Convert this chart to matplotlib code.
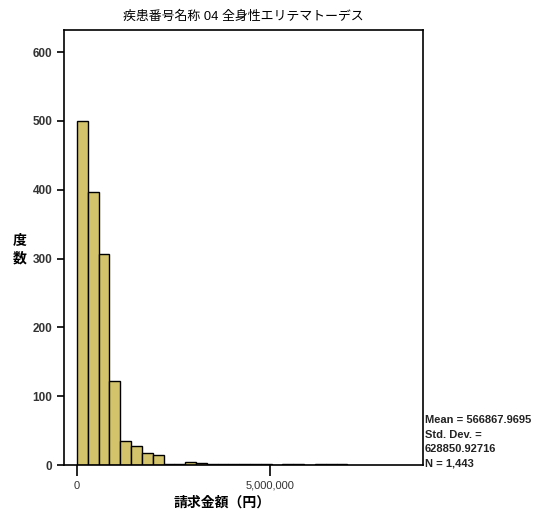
import matplotlib
matplotlib.use("Agg")
import matplotlib.pyplot as plt

plt.rcParams['font.family'] = ['Liberation Sans', 'Noto Sans CJK JP', 'DejaVu Sans']

# histogram of claim amounts (yen), bin width
bin_width = 280000
counts = [500, 397, 306, 122, 35, 28, 18, 14, 2, 2, 4, 3, 2, 1, 1, 1, 1, 1,
          0, 1, 1, 0, 1, 1, 1]
bin_lefts = [i * bin_width for i in range(len(counts))]

title = "疾患番号名称 04 全身性エリテマトーデス"
xlabel = "請求金額（円）"
ylabel = "度\n数"
stats = "Mean = 566867.9695\nStd. Dev. =\n628850.92716\nN = 1,443"
yticks = [0, 100, 200, 300, 400, 500, 600]
xticks = [0, 5000000]
xticklabels = ["0", "5,000,000"]

fig = plt.figure(figsize=(5.39, 5.14), dpi=100)
ax = fig.add_axes([64 / 539, 1 - 465 / 514, (423 - 64) / 539, (465 - 30) / 514])

ax.bar(bin_lefts, counts, width=bin_width, align='edge',
       color='#d3c46c', edgecolor='black', linewidth=1.0)

ax.set_xlim(-337000, 8960000)
ax.set_ylim(0, 632)
ax.set_yticks(yticks)
ax.set_yticklabels([str(v) for v in yticks], fontsize=8.5, fontweight='bold', color='#333333')
ax.set_xticks(xticks)
ax.set_xticklabels(xticklabels, fontsize=8, color='#333333')
ax.tick_params(axis='both', direction='out', length=5, width=1.2)
ax.tick_params(axis='x', length=8)
for s in ax.spines.values():
    s.set_linewidth(1.2)

fig.text(243 / 539, 1 - 17 / 514, title, ha='center', va='center', fontsize=9.3)
fig.text(20 / 539, 1 - 250 / 514, ylabel, ha='center', va='center', fontsize=10,
         fontweight='bold', linespacing=1.3)
fig.text(222 / 539, 1 - 503 / 514, xlabel, ha='center', va='center', fontsize=10,
         fontweight='bold')
fig.text(425 / 539, 1 - 442 / 514, stats, ha='left', va='center', fontsize=8,
         fontweight='bold', linespacing=1.55, color='#222222')

fig.savefig("out.png", dpi=100)
